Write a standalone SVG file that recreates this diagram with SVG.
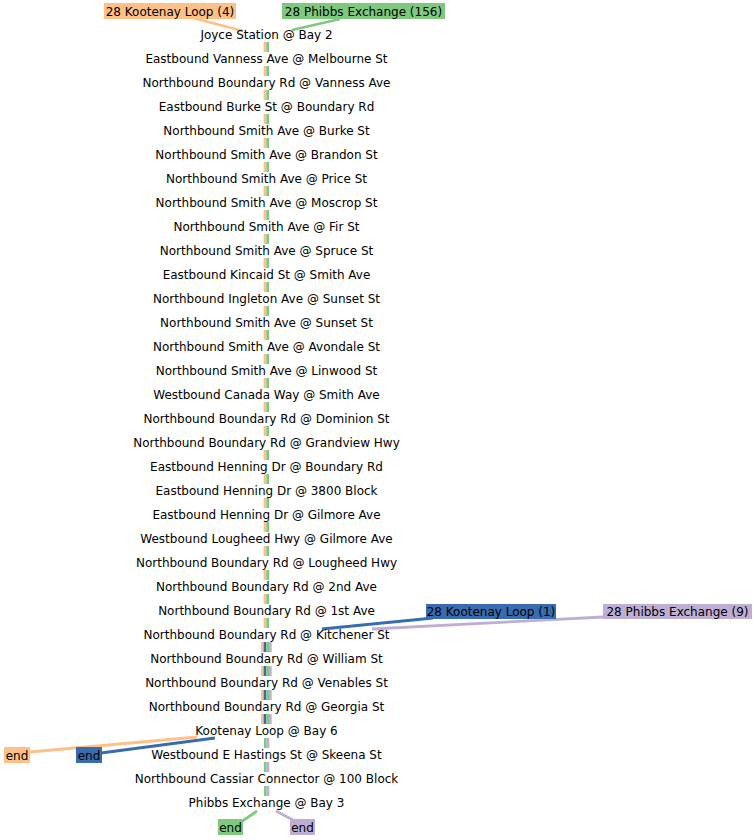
<svg xmlns="http://www.w3.org/2000/svg" width="756" height="840" viewBox="0 0 756 840">
<style>
text{font-family:"DejaVu Sans",sans-serif;font-size:12px;fill:#000}
.st{text-anchor:middle}
.lb{text-anchor:middle}
.seg{fill:none;stroke-width:2.7;stroke-dasharray:10 14}
.con{fill:none;stroke-width:2.8}
.o{stroke:#fdc086}.g{stroke:#7fc97f}.b{stroke:#386cb0}.p{stroke:#beaed4}
</style>
<rect width="756" height="840" fill="#fff"/>
<g id="connectors">
<path class="seg o" d="M265 42V628M262.3 642V724"/>
<path class="seg b" d="M265 642V724"/>
<path class="seg g" d="M267.7 42V628M267.7 642V724M265.3 738V796"/>
<path class="seg p" d="M270.3 642V724M268 738V796"/>
<path class="con o" d="M193 18L243 31"/>
<path class="con g" d="M340 19L292 30"/>
<path class="con b" d="M433 618L322 629"/>
<path class="con p" d="M603 617L372 629"/>
<path class="con o" d="M30 752L197 737"/>
<path class="con b" d="M101 753L215 738"/>
<path class="con g" d="M241 822L257 811"/>
<path class="con p" d="M276 811L293 820"/>
</g>
<g id="label-orange-start"><rect x="104" y="3" width="132" height="16" fill="#fdc086"/><text class="lb" x="170" y="15.5">28 Kootenay Loop (4)</text></g>
<g id="label-green-start"><rect x="282" y="3" width="163" height="16" fill="#7fc97f"/><text class="lb" x="363.5" y="15.5">28 Phibbs Exchange (156)</text></g>
<g id="label-blue-start"><rect x="426" y="604" width="130" height="15" fill="#386cb0"/><text class="lb" x="491" y="615.5">28 Kootenay Loop (1)</text></g>
<g id="label-purple-start"><rect x="603" y="604" width="149" height="15" fill="#beaed4"/><text class="lb" x="677.5" y="615.5">28 Phibbs Exchange (9)</text></g>
<g id="label-orange-end"><rect x="4" y="747" width="26" height="16" fill="#fdc086"/><text class="lb" x="17" y="759.5">end</text></g>
<g id="label-blue-end"><rect x="76" y="747" width="26" height="16" fill="#386cb0"/><text class="lb" x="89" y="759.5">end</text></g>
<g id="label-green-end"><rect x="218" y="819" width="25" height="16" fill="#7fc97f"/><text class="lb" x="230.5" y="831.5">end</text></g>
<g id="label-purple-end"><rect x="290" y="819" width="25" height="16" fill="#beaed4"/><text class="lb" x="302.5" y="831.5">end</text></g>
<g id="s0"><text class="st" x="266.5" y="38.5">Joyce Station @ Bay 2</text></g>
<g id="s1"><text class="st" x="266.5" y="62.5">Eastbound Vanness Ave @ Melbourne St</text></g>
<g id="s2"><text class="st" x="266.5" y="86.5">Northbound Boundary Rd @ Vanness Ave</text></g>
<g id="s3"><text class="st" x="266.5" y="110.5">Eastbound Burke St @ Boundary Rd</text></g>
<g id="s4"><text class="st" x="266.5" y="134.5">Northbound Smith Ave @ Burke St</text></g>
<g id="s5"><text class="st" x="266.5" y="158.5">Northbound Smith Ave @ Brandon St</text></g>
<g id="s6"><text class="st" x="266.5" y="182.5">Northbound Smith Ave @ Price St</text></g>
<g id="s7"><text class="st" x="266.5" y="206.5">Northbound Smith Ave @ Moscrop St</text></g>
<g id="s8"><text class="st" x="266.5" y="230.5">Northbound Smith Ave @ Fir St</text></g>
<g id="s9"><text class="st" x="266.5" y="254.5">Northbound Smith Ave @ Spruce St</text></g>
<g id="s10"><text class="st" x="266.5" y="278.5">Eastbound Kincaid St @ Smith Ave</text></g>
<g id="s11"><text class="st" x="266.5" y="302.5">Northbound Ingleton Ave @ Sunset St</text></g>
<g id="s12"><text class="st" x="266.5" y="326.5">Northbound Smith Ave @ Sunset St</text></g>
<g id="s13"><text class="st" x="266.5" y="350.5">Northbound Smith Ave @ Avondale St</text></g>
<g id="s14"><text class="st" x="266.5" y="374.5">Northbound Smith Ave @ Linwood St</text></g>
<g id="s15"><text class="st" x="266.5" y="398.5">Westbound Canada Way @ Smith Ave</text></g>
<g id="s16"><text class="st" x="266.5" y="422.5">Northbound Boundary Rd @ Dominion St</text></g>
<g id="s17"><text class="st" x="266.5" y="446.5">Northbound Boundary Rd @ Grandview Hwy</text></g>
<g id="s18"><text class="st" x="266.5" y="470.5">Eastbound Henning Dr @ Boundary Rd</text></g>
<g id="s19"><text class="st" x="266.5" y="494.5">Eastbound Henning Dr @ 3800 Block</text></g>
<g id="s20"><text class="st" x="266.5" y="518.5">Eastbound Henning Dr @ Gilmore Ave</text></g>
<g id="s21"><text class="st" x="266.5" y="542.5">Westbound Lougheed Hwy @ Gilmore Ave</text></g>
<g id="s22"><text class="st" x="266.5" y="566.5">Northbound Boundary Rd @ Lougheed Hwy</text></g>
<g id="s23"><text class="st" x="266.5" y="590.5">Northbound Boundary Rd @ 2nd Ave</text></g>
<g id="s24"><text class="st" x="266.5" y="614.5">Northbound Boundary Rd @ 1st Ave</text></g>
<g id="s25"><text class="st" x="266.5" y="638.5">Northbound Boundary Rd @ Kitchener St</text></g>
<g id="s26"><text class="st" x="266.5" y="662.5">Northbound Boundary Rd @ William St</text></g>
<g id="s27"><text class="st" x="266.5" y="686.5">Northbound Boundary Rd @ Venables St</text></g>
<g id="s28"><text class="st" x="266.5" y="710.5">Northbound Boundary Rd @ Georgia St</text></g>
<g id="s29"><text class="st" x="266.5" y="734.5">Kootenay Loop @ Bay 6</text></g>
<g id="s30"><text class="st" x="266.5" y="758.5">Westbound E Hastings St @ Skeena St</text></g>
<g id="s31"><text class="st" x="266.5" y="782.5">Northbound Cassiar Connector @ 100 Block</text></g>
<g id="s32"><text class="st" x="266.5" y="806.5">Phibbs Exchange @ Bay 3</text></g>
</svg>
